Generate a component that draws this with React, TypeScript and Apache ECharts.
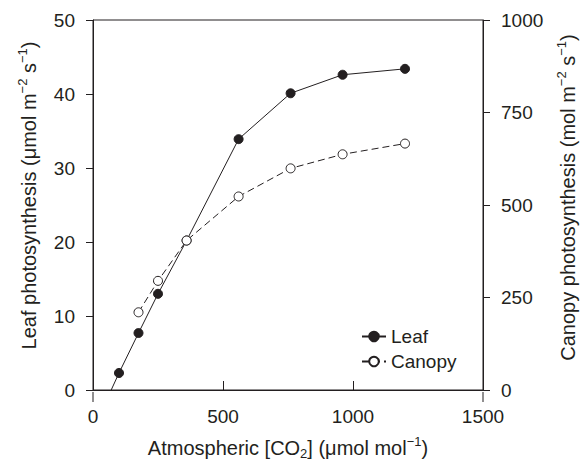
import React, { useEffect, useRef } from "react";
import * as echarts from "echarts";

const leafCO2 = [70, 100, 175, 250, 360, 560, 760, 960, 1200];
const leafValues = [0, 2.3, 7.7, 13.0, 20.2, 33.9, 40.1, 42.6, 43.4];
const canopyCO2 = [175, 250, 360, 560, 760, 960, 1200];
const canopyValues = [210, 295, 404, 523, 599, 637, 666];
const xTicks = [0, 500, 1000, 1500];
const leftTicks = [0, 10, 20, 30, 40, 50];
const rightTicks = [0, 250, 500, 750, 1000];

const FONT = "'Liberation Sans', Arial, Helvetica, sans-serif";
const INK = "#231f20";

export default function App() {
  const ref = useRef<HTMLDivElement>(null);
  useEffect(() => {
    if (!ref.current) return;
    const chart = echarts.init(ref.current, undefined, { renderer: "svg" });
    const rich = {
      sup: { fontSize: 13, lineHeight: 13, verticalAlign: "top", fontFamily: FONT, color: INK },
      sub: { fontSize: 13, lineHeight: 13, verticalAlign: "bottom", fontFamily: FONT, color: INK },
    };
    const nameStyle = { fontSize: 20, lineHeight: 25, fontFamily: FONT, color: INK, rich };
    const labelStyle = { fontSize: 19, fontFamily: FONT, color: INK, formatter: (v: number) => String(v) };
    chart.setOption({
      animation: false,
      backgroundColor: "#ffffff",
      grid: { left: 93, right: 105, top: 20, bottom: 73, show: true, borderColor: INK, borderWidth: 1, backgroundColor: "transparent" },
      legend: {
        orient: "vertical",
        left: 356,
        top: 322,
        itemWidth: 24,
        itemHeight: 12,
        itemGap: 6,
        textStyle: { fontSize: 19, fontFamily: FONT, color: INK },
        data: ["Leaf", "Canopy"],
      },
      xAxis: {
        type: "value",
        min: xTicks[0],
        max: xTicks[xTicks.length - 1],
        interval: 500,
        name: "Atmospheric [CO{sub|2}] (μmol mol{sup|−1})",
        nameLocation: "middle",
        nameGap: 45,
        nameTextStyle: nameStyle,
        axisLine: { lineStyle: { color: INK, width: 1 } },
        axisTick: { inside: true, length: 9, lineStyle: { color: INK } },
        axisLabel: { ...labelStyle, margin: 17 },
        splitLine: { show: false },
      },
      yAxis: [
        {
          type: "value",
          min: leftTicks[0],
          max: leftTicks[leftTicks.length - 1],
          interval: 10,
          name: "Leaf photosynthesis (μmol m{sup|−2} s{sup|−1})",
          nameLocation: "middle",
          nameGap: 52,
          nameTextStyle: { ...nameStyle, padding: [0, 0, 0, 19] },
          axisLine: { show: true, lineStyle: { color: INK, width: 1 } },
          axisTick: { show: true, length: 7, lineStyle: { color: INK } },
          axisLabel: { ...labelStyle, margin: 18 },
          splitLine: { show: false },
        },
        {
          type: "value",
          position: "right",
          min: rightTicks[0],
          max: rightTicks[rightTicks.length - 1],
          interval: 250,
          name: "Canopy photosynthesis (mol m{sup|−2} s{sup|−1})",
          nameLocation: "middle",
          nameGap: 72,
          nameTextStyle: { ...nameStyle, padding: [0, 0, 0, 15] },
          axisLine: { show: true, lineStyle: { color: INK, width: 1 } },
          axisTick: { show: true, length: 7, lineStyle: { color: INK } },
          axisLabel: { ...labelStyle, margin: 18 },
          splitLine: { show: false },
        },
      ],
      graphic: [
        { type: "line", shape: { x1: 93, y1: 392, x2: 93, y2: 402 }, style: { stroke: INK, lineWidth: 1 } },
        { type: "line", shape: { x1: 483, y1: 392, x2: 483, y2: 402 }, style: { stroke: INK, lineWidth: 1 } },
      ],
      series: [
        {
          name: "Leaf",
          type: "line",
          yAxisIndex: 0,
          data: leafCO2.map((x, i) => (i === 0 ? { value: [x, leafValues[i]], symbol: "none" } : [x, leafValues[i]])),
          symbol: "circle",
          symbolSize: 9,
          itemStyle: { color: INK, borderColor: INK, borderWidth: 1 },
          lineStyle: { color: INK, width: 1 },
          z: 3,
        },
        {
          name: "Canopy",
          type: "line",
          yAxisIndex: 1,
          data: canopyCO2.map((x, i) => [x, canopyValues[i]]),
          symbol: "circle",
          symbolSize: 9,
          itemStyle: { color: "#ffffff", borderColor: INK, borderWidth: 1 },
          lineStyle: { color: INK, width: 1, type: [7, 4] },
          z: 4,
        },
      ],
    });
    return () => chart.dispose();
  }, []);
  return <div ref={ref} style={{ position: "fixed", left: 0, top: 0, width: 588, height: 465 }} />;
}
